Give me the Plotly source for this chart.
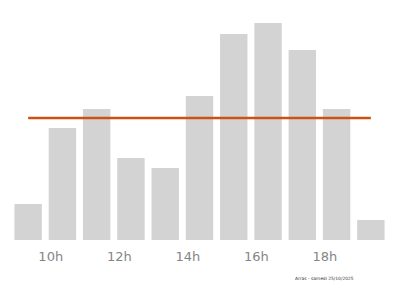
import plotly.graph_objects as go

hours = [9, 10, 11, 12, 13, 14, 15, 16, 17, 18, 19]
values = [36, 112, 131, 82, 72, 144, 206, 217, 190, 131, 20]
tick_hours = [10, 12, 14, 16, 18]
tick_text = ["10h", "12h", "14h", "16h", "18h"]
caption = "Arras - samedi 25/10/2025"

mean_val = sum(values) / len(values)
label_shift = 0.34  # tick labels sit slightly left of bar centres

fig = go.Figure()
fig.add_trace(go.Bar(x=hours, y=values, marker=dict(color="#d3d3d3", line=dict(width=0)),
                     hoverinfo="skip"))
fig.add_trace(go.Scatter(x=[hours[0], hours[-1]], y=[mean_val, mean_val], mode="lines",
                         line=dict(color="#cc5214", width=2.5), hoverinfo="skip"))

fig.update_layout(
    width=400, height=286,
    margin=dict(l=11, r=12, t=0, b=46),
    paper_bgcolor="white", plot_bgcolor="white",
    showlegend=False, bargap=0.2,
    xaxis=dict(range=[8.5, 19.5], tickvals=[h - label_shift for h in tick_hours], ticktext=tick_text,
               showgrid=False, zeroline=False, showline=False,
               ticks="outside", ticklen=4, tickcolor="rgba(0,0,0,0)",
               tickfont=dict(family="DejaVu Sans", size=13, color="#858585")),
    yaxis=dict(range=[0, 240], visible=False),
    annotations=[dict(text=caption, x=(356 - 11) / 377, y=(240 - 278) / 240,
                      xref="paper", yref="paper", xanchor="right", yanchor="middle",
                      showarrow=False, font=dict(family="DejaVu Sans", size=4.4, color="#333333"))],
)
fig.write_html("out.html")
